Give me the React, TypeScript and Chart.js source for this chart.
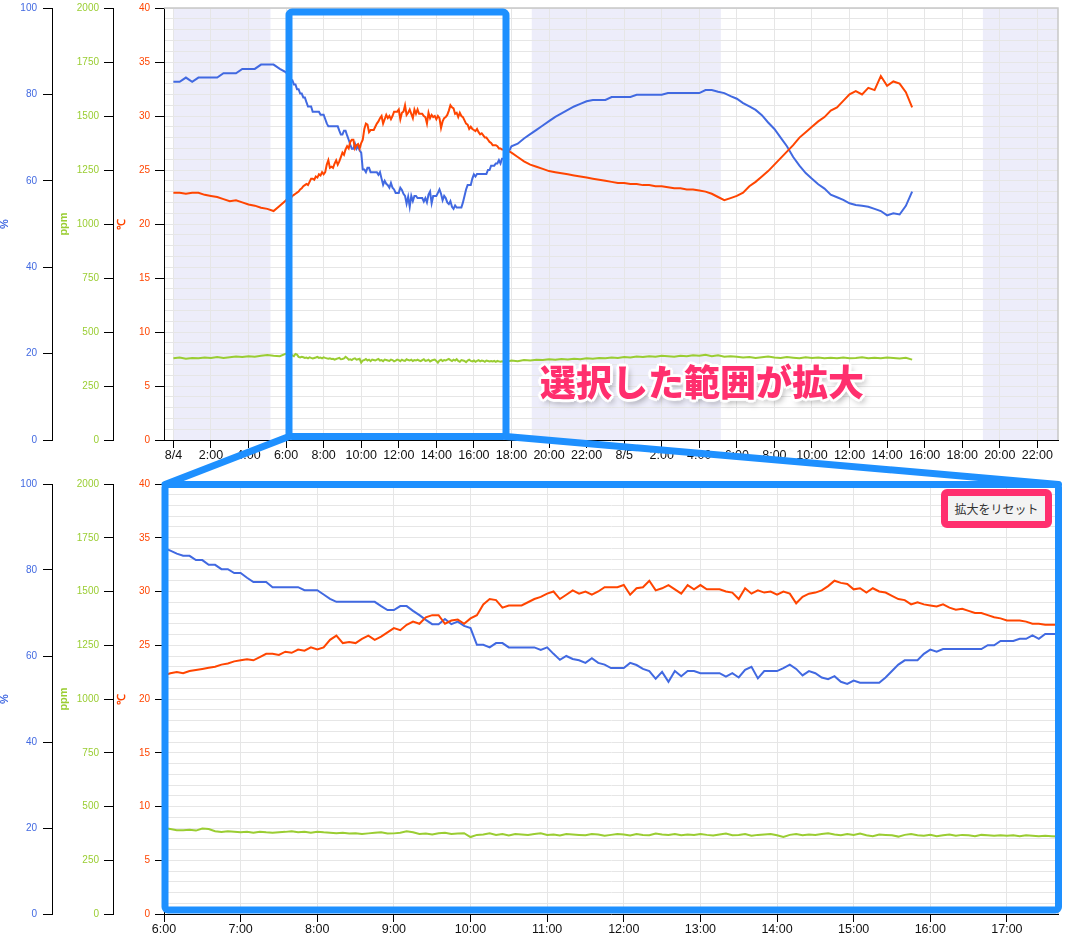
import React, { useEffect, useRef } from 'react';
import { Chart, registerables } from 'chart.js';

Chart.register(...registerables);

// ---------- data ----------
const dayLabels = ['8/4', '8/5'];
// three sampling segments: 8/4 0:00-5:40 (20 min), 8/4 6:00-17:40 (5 min), 8/4 18:00 - 8/5 15:20 (20 min)
const segStartHours = [0, 6, 18];
const segStepMinutes = [20, 5, 20];

const tempA = [22.9, 22.9, 22.8, 22.9, 22.9, 22.7, 22.6, 22.5, 22.3, 22.1, 22.2, 22.0, 21.8, 21.7, 21.5, 21.4, 21.2, 21.7];
const tempB = [
  22.2, 22.4, 22.5, 22.4, 22.6, 22.7, 22.8, 22.9, 23.0, 23.2, 23.3, 23.5,
  23.6, 23.7, 23.6, 23.9, 24.2, 24.2, 24.1, 24.4, 24.3, 24.6, 24.5, 24.8,
  24.6, 24.8, 25.5, 25.9, 25.2, 25.3, 25.2, 25.6, 25.9, 25.5, 25.8, 26.2,
  26.6, 26.4, 26.9, 27.2, 27.0, 27.6, 27.8, 27.8, 27.0, 27.3, 27.4, 27.0,
  27.5, 27.8, 28.8, 29.3, 29.2, 28.5, 28.7, 28.7, 28.7, 29.0, 29.3, 29.5,
  29.8, 30.0, 29.3, 29.7, 30.1, 29.8, 30.0, 29.7, 30.0, 30.4, 30.4, 30.4,
  30.6, 29.7, 30.3, 30.4, 31.0, 30.1, 30.3, 30.6, 30.2, 29.8, 30.6, 30.2,
  30.6, 30.2, 30.2, 30.2, 30.0, 29.9, 29.3, 30.3, 29.8, 30.1, 29.9, 30.0,
  29.7, 30.0, 29.8, 28.9, 29.5, 29.8, 29.9, 30.1, 30.5, 31.0, 30.8, 30.7,
  30.2, 30.3, 29.9, 30.3, 30.0, 29.9, 29.6, 29.3, 29.2, 28.8, 29.0, 28.8,
  28.7, 28.6, 28.8, 28.5, 28.3, 28.4, 28.2, 28.0, 28.0, 27.8, 27.6, 27.5,
  27.3, 27.3, 27.3, 27.2, 27.0, 27.0, 26.9, 26.9, 26.9,
];
const tempC = [
  26.6, 26.2, 25.8, 25.5, 25.3, 25.1, 24.9, 24.8, 24.7, 24.6, 24.5, 24.4, 24.3, 24.2, 24.1, 24.0, 23.9, 23.8,
  23.8, 23.7, 23.7, 23.6, 23.6, 23.5, 23.5, 23.4, 23.3, 23.3, 23.2, 23.2, 23.1, 23.0, 22.8, 22.5, 22.2, 22.4,
  22.6, 22.9, 23.5, 23.9, 24.4, 24.9, 25.5, 26.1, 26.7, 27.3, 28.0, 28.5, 29.0, 29.5, 29.9, 30.5, 30.8, 31.4,
  32.0, 32.3, 32.0, 32.6, 32.4, 33.7, 32.8, 33.2, 33.0, 32.2, 30.8,
];

const humA = [82.9, 82.9, 83.9, 82.9, 83.9, 83.9, 83.9, 83.9, 84.9, 84.9, 84.9, 85.9, 85.9, 85.9, 86.9, 86.9, 86.9, 85.9];
const humB = [
  85.1, 84.5, 83.8, 83.3, 83.3, 82.3, 82.3, 81.2, 81.2, 80.2, 80.2, 79.3,
  79.3, 78.2, 77.2, 77.2, 77.2, 76.0, 76.0, 76.0, 76.0, 76.0, 75.3, 75.3,
  75.3, 74.3, 73.3, 72.6, 72.6, 72.6, 72.6, 72.6, 72.6, 72.6, 71.6, 70.7,
  70.7, 71.6, 71.6, 70.5, 69.5, 68.4, 67.4, 67.4, 68.6, 67.4, 68.0, 67.0,
  66.5, 62.6, 62.6, 62.0, 63.0, 63.0, 62.0, 62.0, 62.0, 62.0, 62.0, 61.4,
  62.0, 60.5, 59.1, 60.0, 59.3, 59.0, 58.4, 59.5, 58.4, 58.0, 57.2, 57.2,
  57.2, 58.4, 57.9, 57.0, 56.5, 54.7, 56.3, 54.0, 56.5, 55.3, 56.5, 56.5,
  56.0, 56.0, 56.0, 56.0, 55.2, 56.0, 55.0, 56.8, 57.5, 54.8, 56.5, 56.5,
  56.5, 57.2, 58.0, 57.0, 55.5, 56.5, 56.0, 55.0, 54.6, 55.3, 54.0, 53.5,
  54.3, 53.8, 53.8, 53.8, 53.8, 55.0, 56.5, 58.0, 59.0, 59.0, 59.0, 60.5,
  61.5, 61.0, 61.6, 61.6, 61.6, 61.6, 61.6, 61.6, 61.6, 62.5, 62.5, 63.5,
  63.5, 63.5, 64.0, 64.0, 64.8, 64.0, 65.1, 65.1, 65.1,
];
const humC = [
  68.0, 68.6, 69.8, 70.8, 71.8, 72.8, 73.8, 74.8, 75.6, 76.4, 77.2, 77.8, 78.4, 78.7, 78.7, 78.7, 79.4, 79.4,
  79.4, 79.4, 79.9, 79.9, 79.9, 79.9, 79.9, 80.3, 80.3, 80.3, 80.3, 80.3, 80.3, 81.0, 81.0, 80.6, 80.3, 79.6,
  79.0, 78.0, 77.2, 76.4, 75.2, 73.5, 72.0, 70.0, 68.0, 65.5, 63.5, 61.8, 60.5, 59.2, 58.2, 56.8, 56.2, 55.6,
  54.8, 54.4, 54.2, 54.0, 53.5, 53.0, 52.0, 52.5, 52.2, 54.2, 57.5,
];

const co2A = [378, 382, 376, 380, 378, 382, 380, 384, 380, 383, 386, 384, 388, 386, 390, 393, 390, 388];
const co2B = [
  400, 395, 390, 390, 392, 388, 398, 395, 385, 382, 385, 383,
  380, 382, 378, 383, 380, 378, 380, 382, 385, 380, 382, 378,
  383, 380, 378, 376, 378, 375, 376, 372, 375, 378, 380, 374,
  375, 378, 385, 380, 372, 374, 370, 376, 378, 372, 374, 376,
  358, 368, 370, 375, 368, 372, 365, 372, 370, 368, 372, 375,
  368, 370, 365, 372, 370, 368, 366, 372, 370, 364, 368, 372,
  370, 365, 372, 368, 366, 374, 370, 368, 372, 366, 370, 368,
  372, 368, 365, 370, 374, 366, 368, 372, 364, 368, 370, 372,
  366, 358, 368, 372, 366, 370, 368, 372, 375, 370, 366, 372,
  368, 374, 366, 362, 370, 368, 366, 360, 368, 372, 366, 364,
  368, 362, 366, 370, 364, 368, 366, 362, 368, 366, 364, 366,
  364, 366, 362, 366, 364, 362, 364, 362, 360,
];
const co2C = [
  368, 365, 370, 368, 372, 370, 374, 372, 375, 373, 376, 374, 378, 376, 380, 378, 382, 380,
  384, 382, 386, 384, 388, 386, 390, 388, 386, 390, 388, 392, 390, 395, 388, 392, 386, 388,
  385, 382, 384, 380, 383, 386, 382, 380, 384, 381, 378, 383, 380, 382, 378, 381, 379, 382,
  378, 380, 383, 379, 381, 378, 382, 380, 377, 381, 372,
];

// night (shaded) periods, hours from 8/4 0:00
const nightStarts = [0, 19.08, 43.1];
const nightEnds = [5.17, 29.15, 53];

const overviewRange = [-0.5, 47.1];
const zoomRange = [6, 17.6667];

// ---------- helpers ----------
function toPoints(segs: number[][]) {
  const pts: { x: number; y: number }[] = [];
  segs.forEach((vals, s) => {
    vals.forEach((v, i) => {
      pts.push({ x: segStartHours[s] + (i * segStepMinutes[s]) / 60, y: v });
    });
  });
  return pts;
}

function fmtHour(v: number) {
  const h = Math.round(v);
  if (h % 24 === 0) return dayLabels[h / 24] ?? '';
  return `${h % 24}:00`;
}

const nightPlugin = {
  id: 'night',
  beforeDraw(chart: any, _args: any, opts: any) {
    const ranges = opts.ranges || [];
    if (!ranges.length) return;
    const { ctx, chartArea, scales } = chart;
    const x = scales.x;
    ctx.save();
    ctx.fillStyle = opts.color;
    for (const [s, e] of ranges) {
      const x0 = Math.max(x.getPixelForValue(s), chartArea.left);
      const x1 = Math.min(x.getPixelForValue(e), chartArea.right);
      if (x1 > x0) ctx.fillRect(x0, chartArea.top, x1 - x0, chartArea.bottom - chartArea.top);
    }
    ctx.restore();
  },
};

const framePlugin = {
  id: 'frameTR',
  afterDatasetsDraw(chart: any) {
    const { ctx, chartArea } = chart;
    ctx.save();
    ctx.strokeStyle = '#c8c8c8';
    ctx.lineWidth = 1.5;
    ctx.beginPath();
    ctx.moveTo(chartArea.left, chartArea.top);
    ctx.lineTo(chartArea.right, chartArea.top);
    ctx.lineTo(chartArea.right, chartArea.bottom);
    ctx.stroke();
    ctx.restore();
  },
};

const FONT = "'Liberation Sans', Arial, sans-serif";
const XFONT = "'Liberation Sans Narrow', 'Liberation Sans', Arial, sans-serif";
const BLUE = '#4169e1';
const GREEN = '#9acd32';
const ORANGE = '#ff4500';

function makeConfig(range: number[], tickStep: number, shade: boolean, padTop: number, xHeight: number): any {
  const ds = (label: string, data: any, axis: string, color: string) => ({
    label,
    data,
    yAxisID: axis,
    borderColor: color,
    backgroundColor: color,
    borderWidth: 2,
    pointRadius: 0,
    tension: 0,
    fill: false,
  });
  const yBase = (color: string, min: number, max: number, step: number, weight: number, width: number, title: string, titlePad: number, labelPad: number, grid: boolean) => ({
    type: 'linear',
    position: 'left',
    min,
    max,
    weight,
    afterFit: (s: any) => {
      s.width = width;
    },
    border: { color: '#000', width: 1 },
    title: { display: true, text: title, color, font: { size: 11, weight: 'bold', family: FONT }, padding: { top: titlePad, bottom: 0 } },
    ticks: {
      stepSize: grid ? 1 : step,
      autoSkip: false,
      color,
      padding: labelPad,
      font: { size: 10, family: FONT },
      callback: (v: number) => (v % step === 0 ? String(v) : ''),
    },
    grid: grid
      ? {
          drawOnChartArea: true,
          color: '#e6e6e6',
          lineWidth: 1,
          tickLength: 9,
          tickColor: (c: any) => (c.tick && c.tick.value % step === 0 ? '#000' : 'rgba(0,0,0,0)'),
        }
      : { drawOnChartArea: false, tickLength: 9, tickColor: '#000' },
  });

  return {
    type: 'line',
    data: {
      datasets: [
        ds('℃', toPoints([tempA, tempB, tempC]), 'yC', ORANGE),
        ds('%', toPoints([humA, humB, humC]), 'yH', BLUE),
        ds('ppm', toPoints([co2A, co2B, co2C]), 'yP', GREEN),
      ],
    },
    options: {
      animation: false,
      responsive: false,
      events: [],
      layout: { padding: { top: padTop, right: 10, left: 0, bottom: 0 } },
      plugins: {
        legend: { display: false },
        tooltip: { enabled: false },
        night: { ranges: shade ? nightStarts.map((s, i) => [s, nightEnds[i]]) : [], color: '#ededfa' },
      },
      scales: {
        x: {
          type: 'linear',
          min: range[0],
          max: range[1],
          afterFit: (s: any) => {
            s.height = xHeight;
          },
          afterBuildTicks: (s: any) => {
            const out: any[] = [];
            for (let v = Math.ceil(range[0] / tickStep) * tickStep; v <= range[1] + 1e-9; v += tickStep) out.push({ value: v });
            s.ticks = out;
          },
          border: { color: '#000', width: 1 },
          grid: { color: '#e6e6e6', tickColor: '#000', tickLength: 8 },
          ticks: {
            stepSize: tickStep,
            autoSkip: false,
            maxRotation: 0,
            padding: 0,
            color: '#111',
            font: { size: 12.5, family: XFONT },
            callback: (v: number) => fmtHour(v),
          },
        },
        yC: yBase(ORANGE, 0, 40, 5, 0, 51, '℃', 2, 5, true),
        yP: yBase(GREEN, 0, 2000, 250, 1, 61, 'ppm', 5, 5, false),
        yH: yBase(BLUE, 0, 100, 20, 2, 52, '%', -2, 6, false),
      },
    },
    plugins: [nightPlugin, framePlugin],
  };
}

export default function App() {
  const topRef = useRef<HTMLCanvasElement>(null);
  const botRef = useRef<HTMLCanvasElement>(null);

  useEffect(() => {
    Chart.defaults.font.family = FONT;
    const top = new Chart(topRef.current as HTMLCanvasElement, makeConfig(overviewRange, 2, true, 12, 30));
    const bot = new Chart(botRef.current as HTMLCanvasElement, makeConfig(zoomRange, 1, false, 14, 22));
    return () => {
      top.destroy();
      bot.destroy();
    };
  }, []);

  const SEL = '#1e90ff';
  const PINK = '#ff2f6e';
  const outline =
    '2px 0 0 #fff, -2px 0 0 #fff, 0 2px 0 #fff, 0 -2px 0 #fff, 2px 2px 0 #fff, -2px -2px 0 #fff, 2px -2px 0 #fff, -2px 2px 0 #fff, 3px 0 1px #fff, -3px 0 1px #fff, 0 3px 1px #fff, 0 -3px 1px #fff, 3px 4px 6px rgba(0,0,0,0.35)';

  return (
    <div style={{ position: 'fixed', left: 0, top: 0, width: 1068, height: 936, background: '#fff', overflow: 'hidden' }}>
      <canvas ref={topRef} width={1068} height={474} style={{ position: 'absolute', left: 0, top: -4, width: 1068, height: 474 }} />
      <canvas ref={botRef} width={1068} height={466} style={{ position: 'absolute', left: 0, top: 470, width: 1068, height: 466 }} />
      <svg width={1068} height={936} style={{ position: 'absolute', left: 0, top: 0, pointerEvents: 'none' }}>
        <rect x={289} y={12} width={217} height={424.5} rx={3} fill="none" stroke={SEL} strokeWidth={7} strokeLinejoin="round" />
        <line x1={289} y1={436.5} x2={165} y2={484.5} stroke={SEL} strokeWidth={7} strokeLinecap="round" />
        <line x1={506} y1={436.5} x2={1058.5} y2={484.5} stroke={SEL} strokeWidth={7} strokeLinecap="round" />
        <rect x={165} y={484.5} width={893.5} height={425.5} rx={3} fill="none" stroke={SEL} strokeWidth={7} strokeLinejoin="round" />
      </svg>
      <div
        style={{
          position: 'absolute',
          left: 540,
          top: 362,
          fontFamily: "'Noto Sans CJK JP', sans-serif",
          fontWeight: 900,
          fontSize: 36,
          lineHeight: '36px',
          color: PINK,
          whiteSpace: 'nowrap',
          textShadow: outline,
        }}
      >
        選択した範囲が拡大
      </div>
      <div
        style={{
          position: 'absolute',
          left: 941,
          top: 489,
          width: 111,
          height: 39,
          boxSizing: 'border-box',
          border: `7px solid ${PINK}`,
          borderRadius: 6,
          background: '#f3f3f3',
          display: 'flex',
          alignItems: 'center',
          justifyContent: 'center',
          fontFamily: "'Noto Sans CJK JP', sans-serif",
          fontSize: 12,
          color: '#333',
          whiteSpace: 'nowrap',
        }}
      >
        拡大をリセット
      </div>
    </div>
  );
}
